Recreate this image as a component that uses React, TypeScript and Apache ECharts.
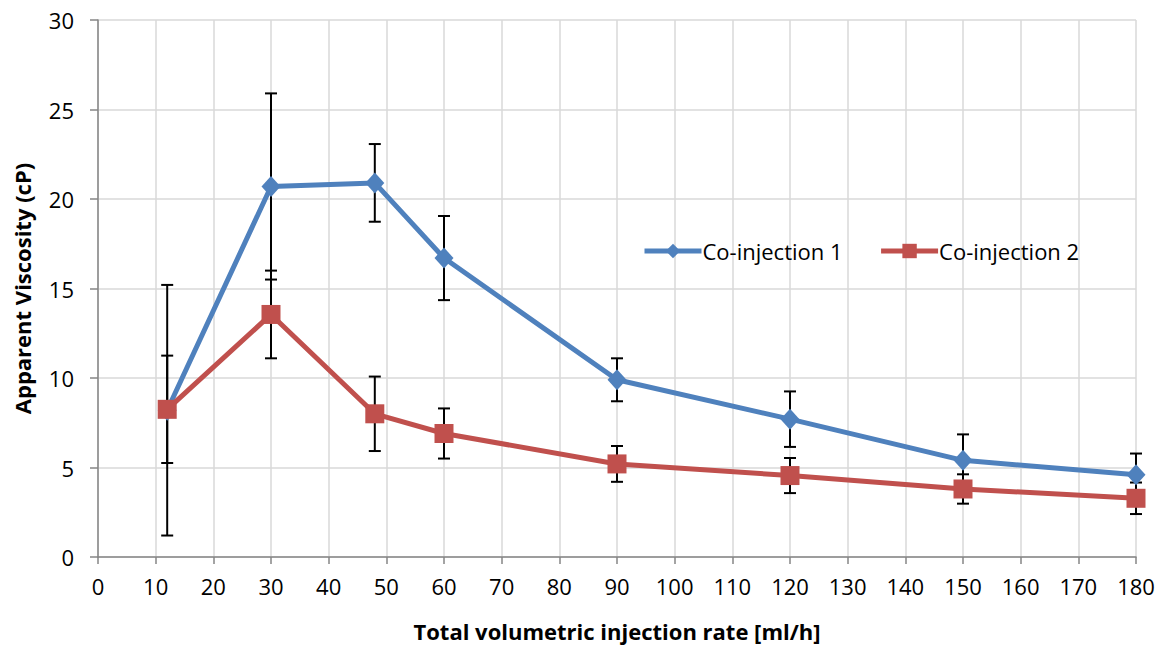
import React, { useEffect, useRef } from "react";
import * as echarts from "echarts";

const xValues = [12, 30, 48, 60, 90, 120, 150, 180];
const coInjection1 = [8.2, 20.7, 20.9, 16.7, 9.9, 7.7, 5.4, 4.6];
const coInjection1Err = [7.0, 5.2, 2.17, 2.35, 1.2, 1.55, 1.45, 1.18];
const coInjection2 = [8.25, 13.55, 8.0, 6.9, 5.2, 4.55, 3.8, 3.28];
const coInjection2Err = [3.0, 2.45, 2.08, 1.4, 1.0, 0.98, 0.82, 0.88];
const seriesNames = ["Co-injection 1", "Co-injection 2"];

const FONT = "'Open Sans', 'Noto Sans', sans-serif";

function errData(vals: number[], errs: number[]) {
  return xValues.map((x, i) => [x, vals[i] - errs[i], vals[i] + errs[i]]);
}

function renderErr(params: any, api: any) {
  const x = api.value(0);
  const lo = api.coord([x, api.value(1)]);
  const hi = api.coord([x, api.value(2)]);
  const cap = 6;
  const style = { stroke: "#000", lineWidth: 2 };
  return {
    type: "group",
    children: [
      { type: "line", shape: { x1: lo[0], y1: lo[1], x2: hi[0], y2: hi[1] }, style },
      { type: "line", shape: { x1: lo[0] - cap, y1: lo[1], x2: lo[0] + cap, y2: lo[1] }, style },
      { type: "line", shape: { x1: hi[0] - cap, y1: hi[1], x2: hi[0] + cap, y2: hi[1] }, style },
    ],
  };
}

export default function App() {
  const ref = useRef<HTMLDivElement>(null);
  useEffect(() => {
    if (!ref.current) return;
    const chart = echarts.init(ref.current, null, { renderer: "svg" });
    chart.setOption({
      animation: false,
      backgroundColor: "#fff",
      textStyle: { fontFamily: FONT },
      grid: { left: 98, right: 23, top: 20, bottom: 91 },
      legend: {
        data: [{ name: seriesNames[0] }, { name: seriesNames[1] }],
        left: 637,
        top: 235,
        itemWidth: 57,
        itemHeight: 18,
        itemGap: 36,
        lineStyle: { width: 5 },
        textStyle: { fontFamily: FONT, fontSize: 22, color: "#000", padding: [0, 0, 0, -4] },
      },
      xAxis: {
        type: "value",
        min: 0,
        max: 180,
        interval: 10,
        name: "Total volumetric injection rate [ml/h]",
        nameLocation: "middle",
        nameGap: 63,
        nameTextStyle: { fontFamily: FONT, fontSize: 22, fontWeight: "bold", color: "#000" },
        axisLine: { lineStyle: { color: "#868686", width: 1.5 } },
        axisTick: { show: true, length: 7, lineStyle: { color: "#868686", width: 1.5 } },
        axisLabel: { fontFamily: FONT, fontSize: 22, color: "#000", margin: 18 },
        splitLine: { show: true, lineStyle: { color: "#D9D9D9", width: 1.5 } },
      },
      yAxis: {
        type: "value",
        min: 0,
        max: 30,
        interval: 5,
        name: "Apparent Viscosity (cP)",
        nameLocation: "middle",
        nameGap: 65,
        nameTextStyle: { fontFamily: FONT, fontSize: 22, fontWeight: "bold", color: "#000" },
        axisLine: { show: true, lineStyle: { color: "#868686", width: 1.5 } },
        axisTick: { show: true, length: 8, lineStyle: { color: "#868686", width: 1.5 } },
        axisLabel: { fontFamily: FONT, fontSize: 22, color: "#000", margin: 24 },
        splitLine: { show: true, lineStyle: { color: "#D9D9D9", width: 1.5 } },
      },
      series: [
        {
          type: "custom",
          name: "err1",
          renderItem: renderErr,
          data: errData(coInjection1, coInjection1Err),
          encode: { x: 0, y: [1, 2] },
          z: 1,
          silent: true,
        },
        {
          type: "custom",
          name: "err2",
          renderItem: renderErr,
          data: errData(coInjection2, coInjection2Err),
          encode: { x: 0, y: [1, 2] },
          z: 1,
          silent: true,
        },
        {
          type: "line",
          name: seriesNames[0],
          data: xValues.map((x, i) => [x, coInjection1[i]]),
          symbol: "diamond",
          symbolSize: [19, 21],
          lineStyle: { color: "#4F81BD", width: 5 },
          itemStyle: { color: "#4F81BD" },
          z: 3,
        },
        {
          type: "line",
          name: seriesNames[1],
          data: xValues.map((x, i) => [x, coInjection2[i]]),
          symbol: "rect",
          symbolSize: 19,
          lineStyle: { color: "#C0504D", width: 5 },
          itemStyle: { color: "#C0504D" },
          z: 4,
        },
      ],
    });
    return () => chart.dispose();
  }, []);
  return (
    <div
      ref={ref}
      style={{ position: "fixed", left: 0, top: 0, width: 1159, height: 648 }}
    />
  );
}
